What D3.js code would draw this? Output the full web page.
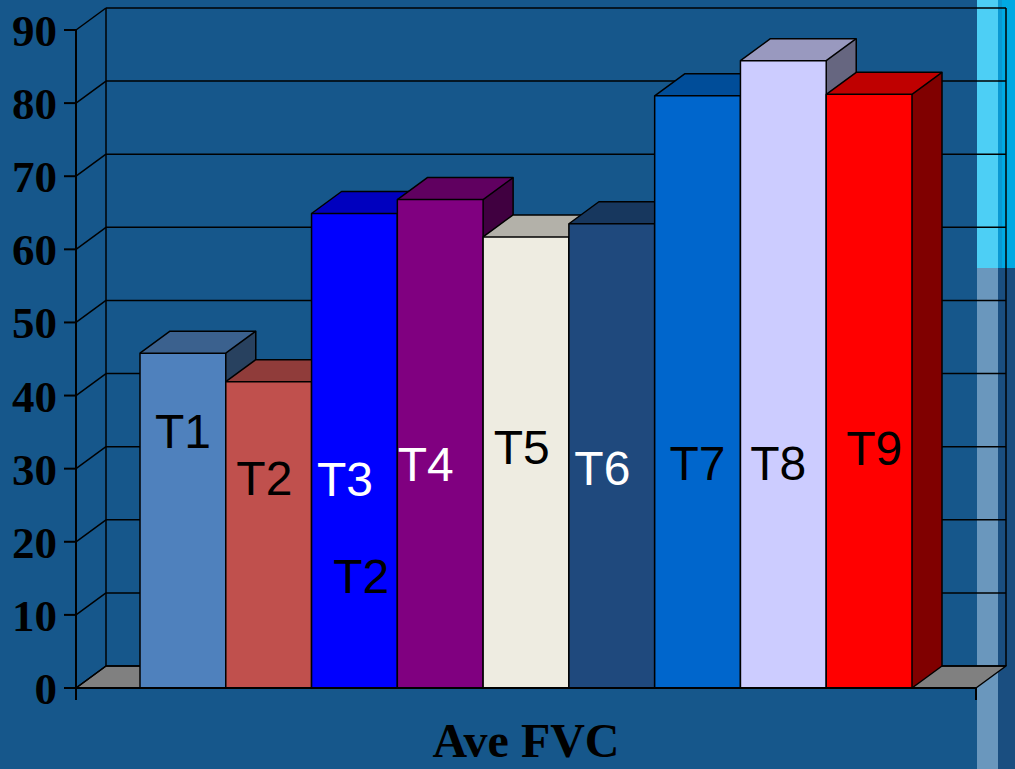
<!DOCTYPE html>
<html>
<head>
<meta charset="utf-8">
<script src="https://cdn.jsdelivr.net/npm/d3@7"></script>
<style>
  html, body { margin: 0; padding: 0; background: #16578b; }
  svg { display: block; }
</style>
</head>
<body>
<svg id="chart" width="1015" height="769"></svg>
<script>
// Chart data
const category = "Ave FVC";
const seriesNames = ["T1", "T2", "T3", "T4", "T5", "T6", "T7", "T8", "T9"];
const seriesValues = [45.8, 41.9, 64.9, 66.8, 61.7, 63.5, 81.0, 85.8, 81.2];
const seriesColors = ["#4f81bd", "#c0504d", "#0000ff", "#800080", "#eeece1",
                      "#1f497d", "#0066cc", "#ccccff", "#ff0000"];
const yTicks = [0, 10, 20, 30, 40, 50, 60, 70, 80, 90];

// Text boxes placed on the bars: series slot, horizontal shift (fraction of
// a bar width), baseline level in axis units, and text colour
const noteText   = ["T1", "T2", "T3", "T2", "T4", "T5", "T6", "T7", "T8", "T9"];
const noteSlot   = [0, 1, 2, 2, 3, 4, 5, 6, 7, 8];
const noteShift  = [0, -0.05, -0.11, 0.08, -0.17, -0.05, -0.11, 0, -0.06, 0.06];
const noteLevel  = [32.8, 26.4, 26.3, 13.0, 28.3, 30.6, 27.8, 28.5, 28.5, 30.5];
const noteColor  = ["#000", "#000", "#fff", "#000", "#fff", "#000", "#fff", "#000", "#000", "#000"];

const svg = d3.select("#chart");

// Decorative stripe at the right edge of the slide
const stripe = svg.append("g");
stripe.append("rect").attr("x", 977).attr("y", 0).attr("width", 21).attr("height", 268).attr("fill", "#4dcff5");
stripe.append("rect").attr("x", 998).attr("y", 0).attr("width", 4).attr("height", 268).attr("fill", "#0a98d2");
stripe.append("rect").attr("x", 1002).attr("y", 0).attr("width", 13).attr("height", 268).attr("fill", "#00a9e3");
stripe.append("rect").attr("x", 977).attr("y", 268).attr("width", 21).attr("height", 501).attr("fill", "#6a97bd");
stripe.append("rect").attr("x", 998).attr("y", 268).attr("width", 17).attr("height", 501).attr("fill", "#1a4e80");

// Plot geometry
const x0 = 76, x1 = 976;
const depthX = 30, depthY = -22;

const y = d3.scaleLinear().domain([0, 90]).range([688, 30]);
const xCat = d3.scaleBand().domain([category]).range([x0, x1]).paddingOuter(0.0829).paddingInner(0);
const xSer = d3.scaleBand().domain(seriesNames).range([0, xCat.bandwidth()]).padding(0);

const line = (g, a, b, w) => g.append("line")
  .attr("x1", a[0]).attr("y1", a[1]).attr("x2", b[0]).attr("y2", b[1])
  .attr("stroke", "#000").attr("stroke-width", w || 1.5);

const poly = pts => pts.map(p => p.join(",")).join(" ");

// Floor
const walls = svg.append("g");
const y0 = y(0);
walls.append("polygon")
  .attr("points", poly([[x0, y0], [x1, y0], [x1 + depthX, y0 + depthY], [x0 + depthX, y0 + depthY]]))
  .attr("fill", "#808080").attr("stroke", "#000").attr("stroke-width", 1.5).attr("stroke-linejoin", "round");

// Back wall gridlines and the side-wall diagonals
yTicks.forEach(v => {
  const yy = y(v);
  line(walls, [x0 + depthX, yy + depthY], [x1 + depthX, yy + depthY]);
  line(walls, [x0, yy], [x0 + depthX, yy + depthY]);
});
line(walls, [x0 + depthX, y(90) + depthY], [x0 + depthX, y0 + depthY]);
line(walls, [x1 + depthX, y(90) + depthY], [x1 + depthX, y0 + depthY]);

// Value axis
const axis = svg.append("g");
line(axis, [x0, y(90)], [x0, y0 + 12], 2);
line(axis, [x0, y0], [x1, y0], 2);
line(axis, [x1, y0], [x1, y0 + 12], 2);
yTicks.forEach(v => line(axis, [x0 - 12, y(v)], [x0, y(v)], 2));
axis.selectAll("text.tick").data(yTicks).join("text")
  .attr("class", "tick")
  .attr("x", 57).attr("y", d => y(d) + 16)
  .attr("text-anchor", "end")
  .attr("font-family", "'Liberation Serif', 'Times New Roman', serif")
  .attr("font-weight", "bold").attr("font-size", 45)
  .attr("fill", "#000")
  .text(d => d);

// 3D bars, drawn left to right so each front face hides its neighbour's side
const shade = (c, k) => { const r = d3.rgb(c); return d3.rgb(r.r * k, r.g * k, r.b * k).formatHex(); };
const bars = svg.append("g");
seriesNames.forEach((name, i) => {
  const left = xCat(category) + xSer(name);
  const right = left + xSer.bandwidth();
  const top = y(seriesValues[i]);
  const col = seriesColors[i];
  const g = bars.append("g");
  g.append("polygon")
    .attr("points", poly([[right, top], [right + depthX, top + depthY], [right + depthX, y0 + depthY], [right, y0]]))
    .attr("fill", shade(col, 0.5));
  g.append("polygon")
    .attr("points", poly([[left, top], [left + depthX, top + depthY], [right + depthX, top + depthY], [right, top]]))
    .attr("fill", shade(col, 0.75));
  g.append("rect")
    .attr("x", left).attr("y", top).attr("width", right - left).attr("height", y0 - top)
    .attr("fill", col);
  // outlines
  g.append("polyline")
    .attr("points", poly([[left, y0], [left, top], [left + depthX, top + depthY], [right + depthX, top + depthY],
                          [right + depthX, y0 + depthY], [right, y0]]))
    .attr("fill", "none").attr("stroke", "#000").attr("stroke-width", 1.5).attr("stroke-linejoin", "round");
  g.append("polyline")
    .attr("points", poly([[left, top], [right, top], [right + depthX, top + depthY]]))
    .attr("fill", "none").attr("stroke", "#000").attr("stroke-width", 1.5).attr("stroke-linejoin", "round");
  g.append("line")
    .attr("x1", right).attr("y1", top).attr("x2", right).attr("y2", y0)
    .attr("stroke", "#000").attr("stroke-width", 1.5);
});
// bottom front edge over the bars
line(bars, [x0, y0], [x1, y0], 2);

// Text boxes on the bars
svg.append("g").selectAll("text").data(noteText).join("text")
  .attr("x", (d, i) => xCat(category) + xSer(seriesNames[noteSlot[i]]) + xSer.bandwidth() * (0.5 + noteShift[i]))
  .attr("y", (d, i) => y(noteLevel[i]))
  .attr("text-anchor", "middle")
  .attr("font-family", "'Liberation Sans', Arial, sans-serif")
  .attr("font-size", 48)
  .attr("fill", (d, i) => noteColor[i])
  .text(d => d);

// Category title
svg.append("text")
  .attr("x", 526).attr("y", 757)
  .attr("text-anchor", "middle")
  .attr("font-family", "'Liberation Serif', 'Times New Roman', serif")
  .attr("font-weight", "bold").attr("font-size", 48)
  .attr("fill", "#000")
  .text(category);
</script>
</body>
</html>
